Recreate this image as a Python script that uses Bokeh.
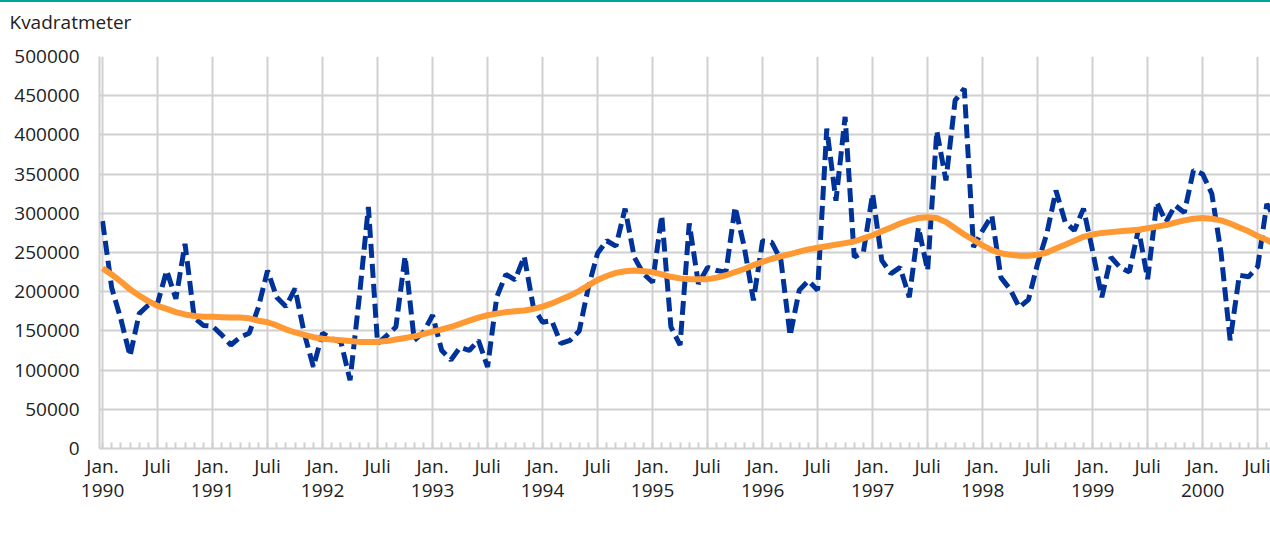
from bokeh.plotting import figure
from bokeh.models import (Range1d, FixedTicker, NumeralTickFormatter, Legend,
                          LegendItem, LinearAxis, Title)
from bokeh.embed import file_html
from bokeh.resources import INLINE

# Monthly series, Jan 1990 .. Sep 2000 (month index 0 = Jan 1990)
months = list(range(129))

ujustert = [
    290000, 205000, 165000, 118000, 172000, 183000, 185000, 227000, 191000, 261000, 167000, 157000,  # 1990
    156000, 145000, 132000, 142000, 147000, 180000, 227000, 193000, 181000, 204000, 147000, 104000,  # 1991
    147000, 140000, 136000, 87000, 192000, 308000, 134000, 144000, 155000, 245000, 138000, 148000,   # 1992
    170000, 125000, 113000, 129000, 125000, 138000, 104000, 193000, 222000, 215000, 245000, 180000,  # 1993
    161000, 163000, 134000, 138000, 150000, 206000, 249000, 265000, 258000, 306000, 244000, 223000,  # 1994
    212000, 297000, 155000, 132000, 287000, 210000, 231000, 227000, 225000, 308000, 257000, 189000,  # 1995
    265000, 263000, 240000, 144000, 202000, 214000, 202000, 408000, 316000, 423000, 244000, 251000,  # 1996
    325000, 240000, 223000, 231000, 193000, 282000, 227000, 405000, 342000, 444000, 459000, 257000,  # 1997
    278000, 297000, 218000, 203000, 180000, 190000, 236000, 274000, 329000, 289000, 278000, 306000,  # 1998
    252000, 193000, 244000, 231000, 225000, 280000, 216000, 314000, 289000, 310000, 301000, 355000,  # 1999
    350000, 325000, 250000, 138000, 221000, 219000, 232000, 312000, 290000,                          # 2000
]

trend = [
    230000, 222000, 213000, 203000, 195000, 188000, 182000, 178000, 174000, 171000, 169000, 168000,  # 1990
    168000, 167500, 167000, 167000, 166000, 163000, 161000, 157000, 152000, 148000, 145000, 142000,  # 1991
    140000, 139000, 138000, 137000, 136000, 136000, 136000, 137000, 139000, 141000, 143000, 146000,  # 1992
    149000, 152000, 155000, 159000, 163000, 167000, 170000, 172000, 174000, 175000, 176000, 178000,  # 1993
    181000, 185000, 190000, 195000, 201000, 208000, 215000, 220000, 224000, 226000, 227000, 226000,  # 1994
    225000, 222000, 219000, 217000, 216000, 216000, 216000, 218000, 221000, 225000, 229000, 234000,  # 1995
    238000, 242000, 245000, 248000, 251000, 254000, 256000, 258000, 260000, 262000, 264000, 268000,  # 1996
    272000, 277000, 282000, 287000, 291000, 294000, 295000, 294000, 289000, 281000, 273000, 266000,  # 1997
    259000, 253000, 249000, 247000, 246000, 246000, 247000, 250000, 255000, 260000, 265000, 270000,  # 1998
    273000, 275000, 276000, 277000, 278000, 279000, 281000, 283000, 285000, 288000, 291000, 293000,  # 1999
    294000, 293000, 291000, 287000, 282000, 277000, 271000, 266000, 260000,                          # 2000
]

years = ["1990", "1991", "1992", "1993", "1994", "1995", "1996", "1997", "1998", "1999", "2000"]
jan_label = "Jan."
jul_label = "Juli"
y_ticks = [0, 50000, 100000, 150000, 200000, 250000, 300000, 350000, 400000, 450000, 500000]

series_names = ["Bruksareal andre bygg, ujustert", "Bruksareal andre bygg, trend"]
y_title = "Kvadratmeter"

FONT = "Open Sans"
TXT = "#222222"
GRID = "#D0D0D0"
BLUE = "#003399"
ORANGE = "#FF9933"
TEAL = "#00A39C"

p = figure(frame_width=1171, frame_height=392, output_backend="svg",
           toolbar_location=None, title=None,
           x_range=Range1d(-0.33, 127.4), y_range=Range1d(0, 500000),
           min_border_left=99, min_border_right=0, min_border_top=54,
           min_border_bottom=104,
           styles={"border-top": "2px solid " + TEAL})
p.outline_line_color = None
p.background_fill_color = "white"
p.border_fill_color = "white"

# spacer above the frame, then the unit title further out
p.add_layout(Title(text=" ", text_font_size="18px", standoff=0), "above")
p.add_layout(Title(text=y_title, align="left", offset=-90, standoff=0,
                   text_font=FONT, text_font_size="19px", text_font_style="normal",
                   text_color=TXT), "above")

# ticks
major = list(range(0, 127, 6))
jan_ticks = list(range(0, 127, 12))
month_overrides = {t: (jan_label if t % 12 == 0 else jul_label) for t in major}
year_overrides = {t: years[t // 12] for t in jan_ticks}

p.xaxis.ticker = FixedTicker(ticks=major, minor_ticks=months)
p.xaxis.major_label_overrides = month_overrides
p.xgrid.ticker = FixedTicker(ticks=major)
p.yaxis.ticker = FixedTicker(ticks=y_ticks)
p.yaxis.formatter = NumeralTickFormatter(format="0")

for ax in (p.xaxis[0], p.yaxis[0]):
    ax.axis_line_color = GRID
    ax.axis_line_width = 2
    ax.major_tick_line_color = None
    ax.major_tick_in = 0
    ax.major_tick_out = 0
    ax.major_label_text_font = FONT
    ax.major_label_text_font_size = "19px"
    ax.major_label_text_color = TXT

p.xaxis.minor_tick_in = 6
p.xaxis.minor_tick_out = 0
p.xaxis.minor_tick_line_color = GRID
p.xaxis.minor_tick_line_width = 2
p.xaxis.major_label_standoff = 4
p.yaxis.minor_tick_line_color = None
p.yaxis.major_label_standoff = 20

# second row of x labels: the years
year_axis = LinearAxis(ticker=FixedTicker(ticks=jan_ticks, minor_ticks=[]),
                       major_label_overrides=year_overrides,
                       axis_line_color=None, major_tick_line_color=None,
                       minor_tick_line_color=None, major_tick_in=0, major_tick_out=0,
                       major_label_standoff=2, major_label_text_font=FONT,
                       major_label_text_font_size="19px", major_label_text_color=TXT)
p.add_layout(year_axis, "below")

# spacer between the year labels and the legend
p.add_layout(Title(text=" ", text_font_size="15px", standoff=0), "below")

p.xgrid.grid_line_color = GRID
p.xgrid.grid_line_width = 2
p.ygrid.grid_line_color = GRID
p.ygrid.grid_line_width = 2

r_ujust = p.line(months, ujustert, line_color=BLUE, line_width=5, line_dash="14 6")
r_trend = p.line(months, trend, line_color=ORANGE, line_width=6, line_join="round")

legend = Legend(items=[LegendItem(label=series_names[0], renderers=[r_ujust]),
                       LegendItem(label=series_names[1], renderers=[r_trend])],
                location="top_center", orientation="horizontal",
                glyph_width=63, glyph_height=20, label_standoff=20, spacing=106,
                padding=0, margin=0, border_line_color=None,
                background_fill_alpha=0, label_text_font=FONT,
                label_text_font_size="19px", label_text_color=TXT)
p.add_layout(legend, "below")

open("out.html", "w").write(file_html(p, INLINE))
